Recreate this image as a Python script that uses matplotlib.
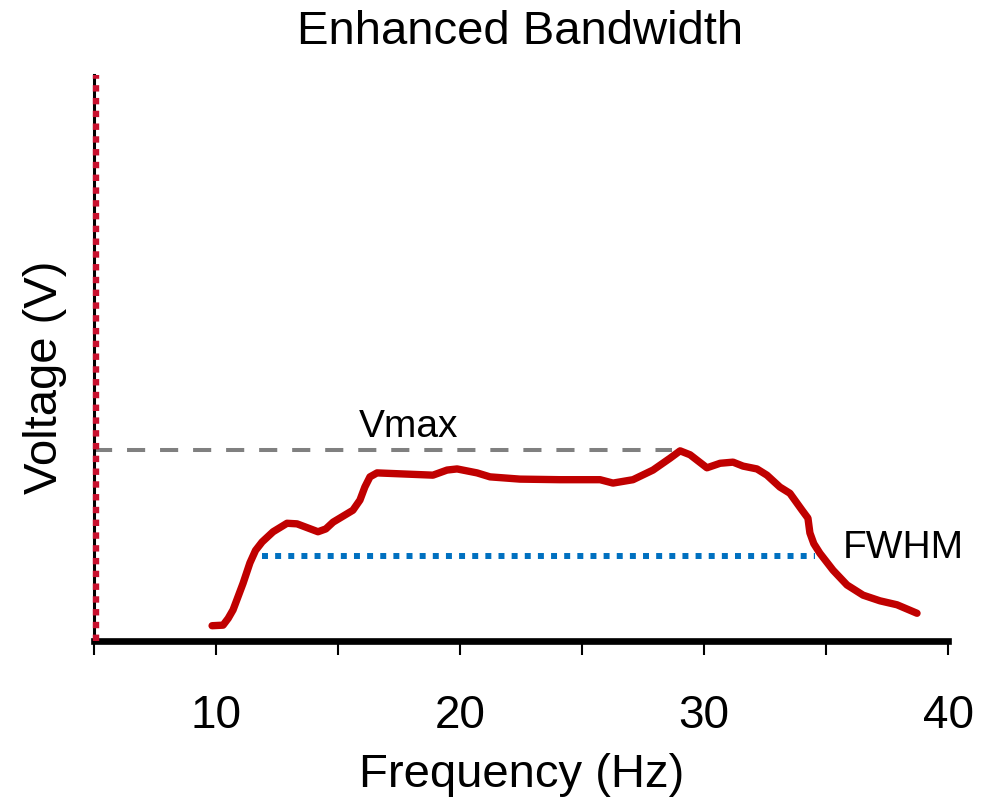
import matplotlib

matplotlib.use("Agg")

import matplotlib.pyplot as plt

plt.rcParams["font.family"] = ["Liberation Sans", "DejaVu Sans"]

# Measured response of the broadened harvester
freq_hz = [9.84, 10.29, 10.50, 10.70, 11.11, 11.39, 11.62, 11.89, 12.34, 12.91,
           13.32, 14.18, 14.50, 14.80, 15.61, 15.90, 16.10, 16.31, 16.60, 18.89,
           19.47, 19.88, 20.70, 21.23, 22.46, 24.10, 25.74, 26.27, 27.09, 27.91,
           28.61, 29.02, 29.43, 30.12, 30.66, 31.19, 31.60, 32.17, 32.58, 33.11,
           33.52, 34.02, 34.26, 34.34, 34.50, 34.75, 35.29, 35.86, 36.52, 37.21,
           37.91, 38.73]
voltage = [0.27, 0.28, 0.40, 0.55, 1.02, 1.38, 1.60, 1.75, 1.93, 2.08,
           2.07, 1.93, 1.98, 2.10, 2.31, 2.49, 2.72, 2.90, 2.97, 2.93,
           3.02, 3.04, 2.97, 2.90, 2.86, 2.85, 2.85, 2.79, 2.85, 3.02,
           3.23, 3.36, 3.29, 3.06, 3.14, 3.16, 3.09, 3.04, 2.93, 2.72,
           2.61, 2.31, 2.17, 1.91, 1.72, 1.55, 1.25, 0.99, 0.81, 0.71,
           0.64, 0.49]

v_max = 3.37
v_max_end = 28.7
fwhm_level = 1.50
fwhm_range = [11.89, 34.55]

x_ticks = [5, 10, 15, 20, 25, 30, 35, 40]
x_tick_labels = ["", "10", "", "20", "", "30", "", "40"]

W, H = 997, 797
fig = plt.figure(figsize=(W / 100, H / 100), dpi=100)
ax = fig.add_axes([94 / W, 1 - 641 / H, (948 - 94) / W, (641 - 75) / H])

ax.set_xlim(5, 40)
ax.set_ylim(0, 10)

# reference levels
ax.plot([5, v_max_end], [v_max, v_max], color="#808080", lw=2.9,
        linestyle=(0, (4.5, 3.7)), zorder=2)
ax.plot(fwhm_range, [fwhm_level, fwhm_level], color="#0070C0", lw=4.3,
        linestyle=(0, (1, 1.2)), zorder=2)

ax.plot(freq_hz, voltage, color="#C00000", lw=5.3, solid_capstyle="round",
        solid_joinstyle="round", zorder=3)

ax.text(17.9, 3.6, "Vmax", fontsize=28, ha="center", va="baseline")
ax.text(35.7, 1.47, "FWHM", fontsize=28, ha="left", va="baseline")

# spines: thick bottom, thin left with a dotted red overlay
for side in ["top", "right"]:
    ax.spines[side].set_visible(False)
ax.spines["bottom"].set_linewidth(4.8)
ax.spines["left"].set_linewidth(2.2)
ax.axvline(5.1, color="#C8102E", lw=4.6, linestyle=(0, (1, 1)),
           clip_on=False, zorder=4)

ax.set_xticks(x_ticks)
ax.set_xticklabels(x_tick_labels)
ax.set_yticks([])
ax.tick_params(axis="x", direction="out", length=10, width=1.5,
               labelsize=33, pad=28)

fig.text(520 / W, 1 - 44 / H, "Enhanced Bandwidth", fontsize=34,
         ha="center", va="baseline")
fig.text(522 / W, 1 - 787 / H, "Frequency (Hz)", fontsize=34,
         ha="center", va="baseline")
fig.text(45 / W, 1 - 377 / H, "Voltage (V)", fontsize=34, rotation=90,
         ha="center", va="center")

fig.savefig("out.png", dpi=100)
